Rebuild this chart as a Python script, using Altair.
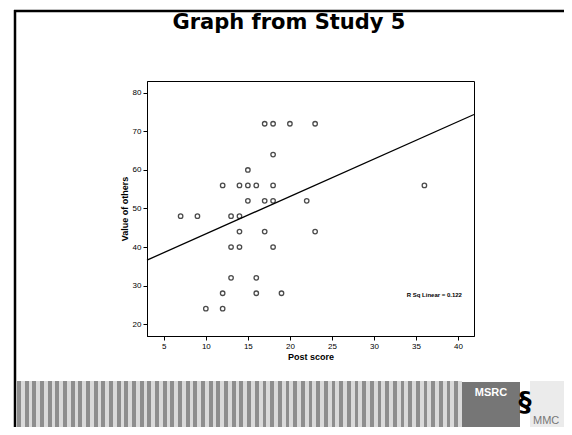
import altair as alt
import pandas as pd

# ---- data ----
post_score = [17, 18, 20, 23, 18, 15, 12, 14, 15, 16, 18, 15, 17, 18, 22,
              7, 9, 13, 14, 14, 17, 23, 13, 14, 18, 13, 16, 12, 16, 19, 10, 12, 36]
value_others = [72, 72, 72, 72, 64, 60, 56, 56, 56, 56, 56, 52, 52, 52, 52,
                48, 48, 48, 48, 44, 44, 44, 40, 40, 40, 32, 32, 28, 28, 28, 24, 24, 56]
fit_x = [3.0, 41.9]
fit_y = [36.6, 74.4]
x_ticks = [5, 10, 15, 20, 25, 30, 35, 40]
y_ticks = [20, 30, 40, 50, 60, 70, 80]
x_domain = [3.0, 41.9]
y_domain = [16.9, 83.1]
title_text = "Graph from Study 5"
x_title = "Post score"
y_title = "Value of others"
r2_label = "R Sq Linear = 0.122"

pts = pd.DataFrame({"post": post_score, "value": value_others})
fit = pd.DataFrame({"post": fit_x, "value": fit_y})
one = pd.DataFrame({"k": [0]})

FONT = "Liberation Sans"

xs = alt.Scale(domain=x_domain, nice=False, zero=False)
ys = alt.Scale(domain=y_domain, nice=False, zero=False)

x_axis = alt.Axis(values=x_ticks, title=x_title, grid=False, tickSize=4,
                  labelPadding=2, titlePadding=2, labelFontSize=8,
                  titleFontSize=9, titleFontWeight="bold", labelFont=FONT,
                  titleFont=FONT, domainColor="black", tickColor="black",
                  labelColor="black", titleColor="black")
y_axis = alt.Axis(values=y_ticks, title=y_title, grid=False, tickSize=4,
                  labelPadding=2, titlePadding=3, labelFontSize=8,
                  titleFontSize=9, titleFontWeight="bold", labelFont=FONT,
                  titleFont=FONT, domainColor="black", tickColor="black",
                  labelColor="black", titleColor="black")

points = alt.Chart(pts).mark_point(
    shape="circle", filled=False, color="black", size=20, strokeWidth=1.3
).encode(
    x=alt.X("post:Q", scale=xs, axis=x_axis),
    y=alt.Y("value:Q", scale=ys, axis=y_axis),
)

line = alt.Chart(fit).mark_line(color="black", strokeWidth=1.3).encode(
    x=alt.X("post:Q", scale=xs),
    y=alt.Y("value:Q", scale=ys),
)

r2 = alt.Chart(one).mark_text(
    text=r2_label, font=FONT, fontSize=6, fontWeight="bold",
    align="left", baseline="middle", color="black"
).encode(x=alt.datum(33.9), y=alt.datum(27.5))

title = alt.Chart(one).mark_text(
    text=title_text, font="DejaVu Sans", fontSize=21, fontWeight="bold",
    align="center", baseline="alphabetic", color="black"
).encode(x=alt.value(142), y=alt.value(-52))

# ---- slide decoration ----
frame_top = alt.Chart(one).mark_rule(color="black", strokeWidth=2.5).encode(
    x=alt.value(-133), x2=alt.value(420), y=alt.value(-70))
frame_left = alt.Chart(one).mark_rule(color="black", strokeWidth=2.5).encode(
    x=alt.value(-132), y=alt.value(-71), y2=alt.value(350))

stops = []
n = 58
for i in range(n):
    a = i / n
    b = (i + 0.5) / n
    c = (i + 1) / n
    stops += [alt.GradientStop(offset=a, color="#8e8e8e"),
              alt.GradientStop(offset=b, color="#8e8e8e"),
              alt.GradientStop(offset=b, color="#dadada"),
              alt.GradientStop(offset=c, color="#dadada")]
band = alt.Chart(one).mark_rect(
    color=alt.LinearGradient(gradient="linear", stops=stops, x1=0, x2=1, y1=0, y2=0)
).encode(x=alt.value(-130), x2=alt.value(315), y=alt.value(300), y2=alt.value(350))

logo = alt.Chart(one).mark_rect(color="#767676").encode(
    x=alt.value(315), x2=alt.value(373), y=alt.value(301), y2=alt.value(350))
logo_txt = alt.Chart(one).mark_text(
    text="MSRC", font=FONT, fontSize=11, fontWeight="bold", color="white",
    align="center", baseline="middle").encode(x=alt.value(344), y=alt.value(312))
right_bg = alt.Chart(one).mark_rect(color="#ebebeb").encode(
    x=alt.value(383), x2=alt.value(420), y=alt.value(300), y2=alt.value(350))
squiggle = alt.Chart(one).mark_text(
    text="§", font="DejaVu Sans", fontSize=26, fontWeight="bold", color="black",
    align="center", baseline="middle").encode(x=alt.value(378), y=alt.value(322))
mmc = alt.Chart(one).mark_text(
    text="MMC", font=FONT, fontSize=11, color="#777777",
    align="left", baseline="alphabetic").encode(x=alt.value(386), y=alt.value(343))

chart = alt.layer(
    band, logo, logo_txt, right_bg, squiggle, mmc, frame_top, frame_left,
    title, line, points, r2
).properties(
    width=327, height=255,
    padding={"left": 139, "top": 73, "right": 90, "bottom": 91},
    autosize=alt.AutoSizeParams(type="none"),
).configure(
    background="white",
    view=alt.ViewConfig(stroke="black", strokeWidth=1),
)

chart.save("out.html", embed_options={"renderer": "svg", "actions": False})
